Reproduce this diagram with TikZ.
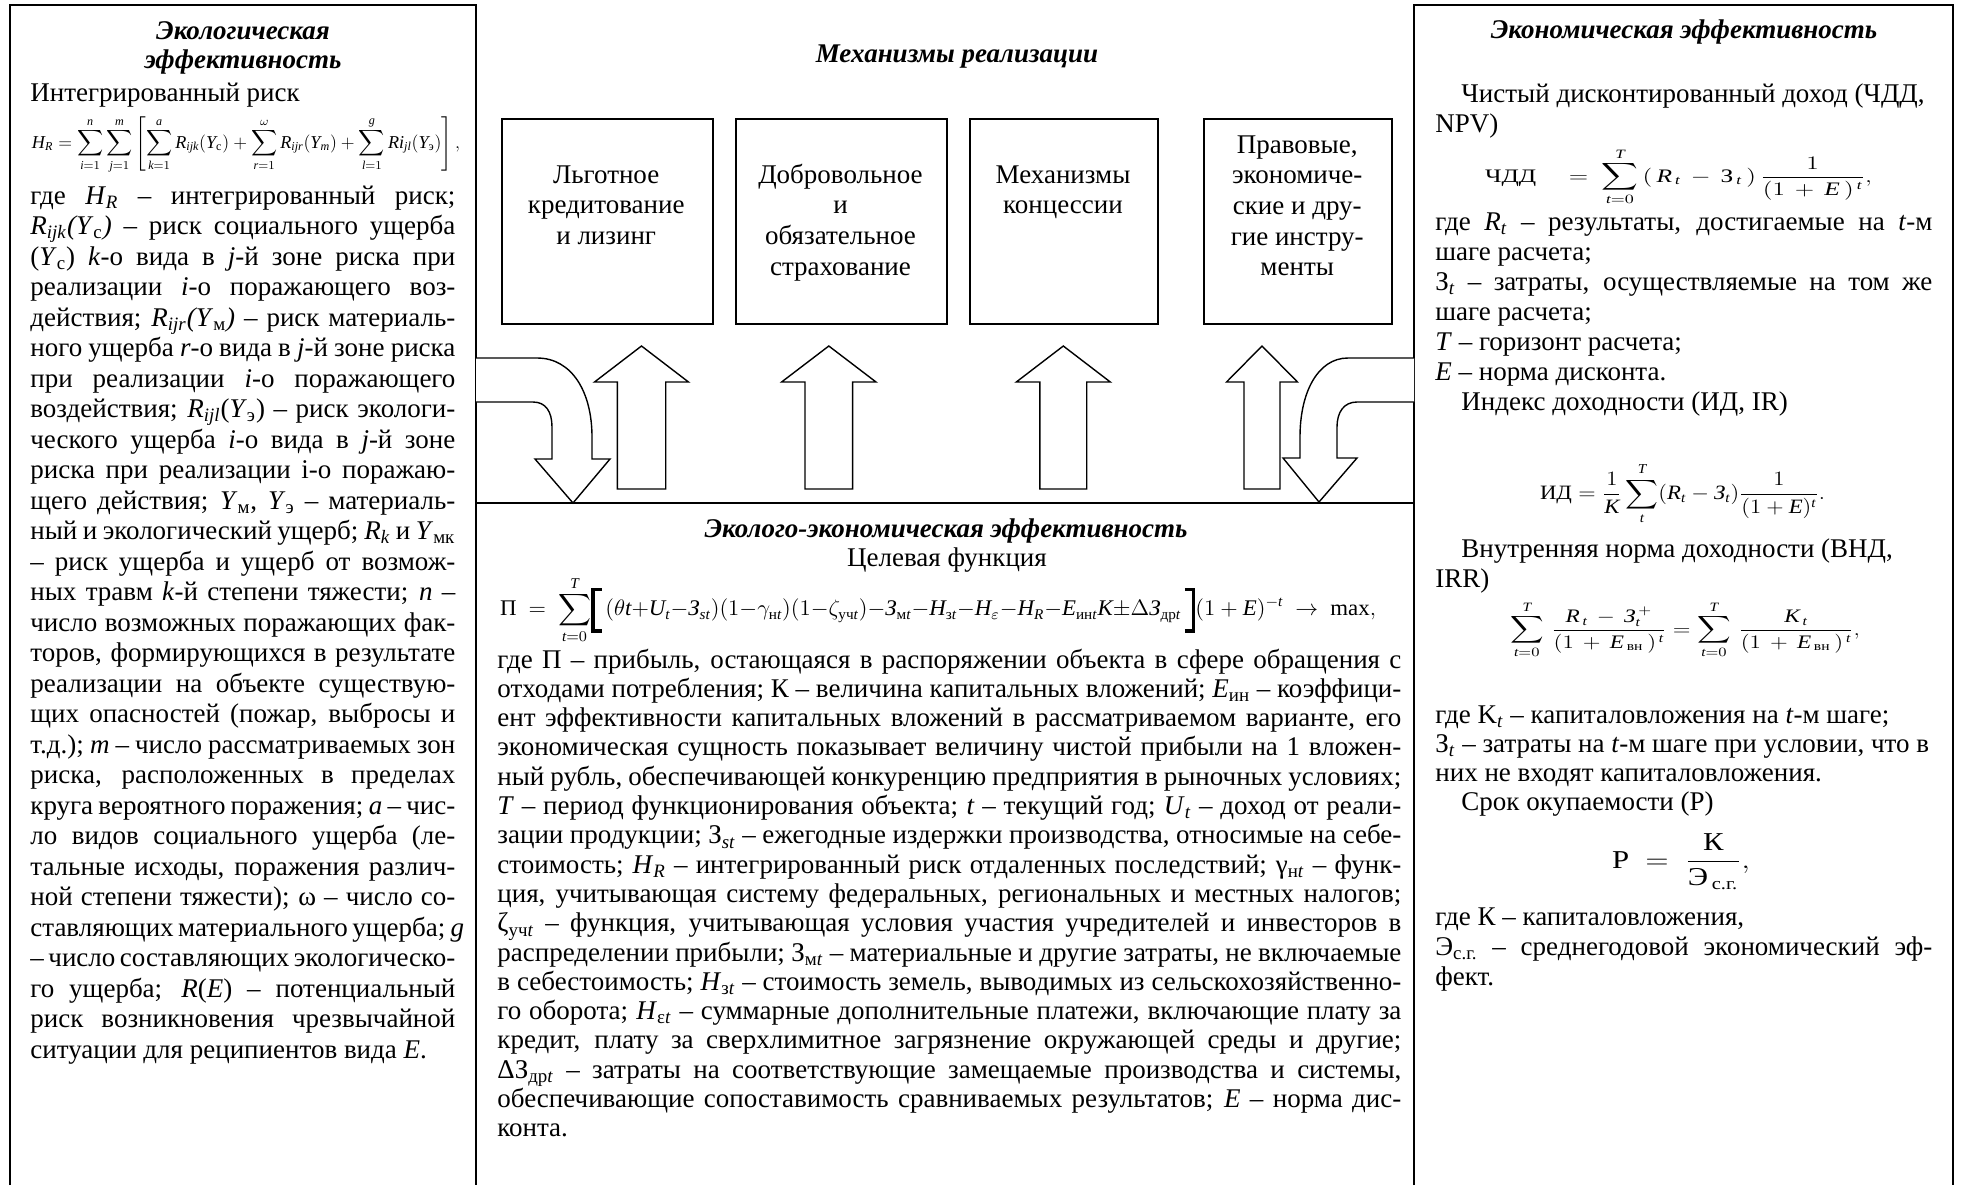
\documentclass[tikz,border=0pt]{standalone}
\usepackage{amsmath}
\usepackage{graphicx}
\usepackage{fontspec}
\setmainfont{Liberation Serif}
\newfontfamily\serifmath[NFSSFamily=lsmath]{Liberation Serif}

% serif letters and digits in formulas
\DeclareSymbolFont{tletters}{TU}{lsmath}{m}{it}
\DeclareSymbolFont{tdigits}{TU}{lsmath}{m}{n}
\newcount\mcnt
\mcnt=`A \loop \Umathcode\mcnt=7 \symtletters \mcnt \advance\mcnt 1 \ifnum\mcnt<`[ \repeat
\mcnt=`a \loop \Umathcode\mcnt=7 \symtletters \mcnt \advance\mcnt 1 \ifnum\mcnt<`\{ \repeat
\mcnt=`0 \loop \Umathcode\mcnt=7 \symtdigits \mcnt \advance\mcnt 1 \ifnum\mcnt<`: \repeat
\Umathcode`(=4 \symtdigits `(
\Umathcode`)=5 \symtdigits `)

% inline helpers
\newcommand\vv[1]{\textit{#1}}
\newcommand\sub[1]{\textsubscript{#1}}
% justified line, natural line, centred line
\newcommand\jl[1]{\hbox to\hsize{#1}}
\newcommand\el[1]{\hbox{#1}}
\newcommand\cl[1]{\hbox to\hsize{\hfil#1\hfil}}
% block of lines: width, baseline distance, lines
\newcommand\blk[3]{\vtop{\hsize=#1\baselineskip=#2\lineskiplimit=-\maxdimen\lineskip=0pt #3}}
% heavy square brackets for the objective function
\newcommand\hbrl{\mathopen{\vcenter{\hbox{\vrule width 1.8pt height 24pt depth 0pt\kern-1.8pt
  \vbox to 24pt{\hrule width 5.5pt height 1.8pt\vfil\hrule width 5.5pt height 1.8pt}}}}}
\newcommand\hbrr{\mathclose{\vcenter{\hbox{\vbox to 24pt{\hrule width 5.5pt height 1.8pt\vfil
  \hrule width 5.5pt height 1.8pt}\kern-1.8pt\vrule width 1.8pt height 24pt depth 0pt}}}}
% hollow upward block arrow: centre x, shaft half width, head half width
\newcommand\uparr[3]{%
  \draw[blockarrow] (#1-#2,489) -- (#1-#2,382) -- (#1-#3,382) -- (#1,346)
    -- (#1+#3,382) -- (#1+#2,382) -- (#1+#2,489) -- cycle;}

\tikzset{
  frame/.style={line width=1pt},
  blockarrow/.style={draw, line width=0.7pt, fill=white, line join=miter},
  tb/.style={inner sep=0pt, anchor=base west, font=\fontsize{13.5pt}{15pt}\selectfont},
  ctext/.style={inner sep=0pt, anchor=base, font=\fontsize{13.5pt}{15pt}\selectfont},
  head/.style={inner sep=0pt, anchor=base, font=\fontsize{13.5pt}{15pt}\selectfont\bfseries\itshape},
  mbox/.style={draw, line width=1pt, anchor=north west, inner sep=0pt},
  fml/.style={inner sep=0pt, anchor=center, font=\fontsize{12pt}{14pt}\selectfont},
}

\begin{document}
\begin{tikzpicture}[x=0.5pt, y=-0.5pt]
\useasboundingbox (0,0) rectangle (1961,1185);
\fill[white] (0,0) rectangle (1961,1185);

% ---------- frames ----------
\draw[frame] (10,1185) -- (10,5) -- (476,5) -- (476,1185);
\draw[frame] (1414,1185) -- (1414,5) -- (1953,5) -- (1953,1185);
\draw[frame] (476,503) -- (1414,503);

% ---------- mechanisms ----------
\node[head] (mechtitle) at (957,62) {Механизмы реализации};

\node[mbox, minimum width=105.5pt, minimum height=102.5pt] (b1) at (500.7,118) {};
\node[mbox, minimum width=105.5pt, minimum height=102.5pt] (b2) at (735,118) {};
\node[mbox, minimum width=93.7pt, minimum height=102.5pt] (b3) at (969.3,118) {};
\node[mbox, minimum width=93.8pt, minimum height=102.5pt] (b4) at (1203.3,118) {};

\node[ctext] (t1) at (606.2,183) {\blk{100pt}{15.35pt}{\cl{Льготное}\cl{кредитование}\cl{и лизинг}}};
\node[ctext] (t2) at (840.5,183) {\blk{100pt}{15.35pt}{\cl{Добровольное}\cl{и}\cl{обязательное}\cl{страхование}}};
\node[ctext] (t3) at (1063,183) {\blk{90pt}{15.35pt}{\cl{Механизмы}\cl{концессии}}};
\node[ctext] (t4) at (1297.2,153) {\blk{90pt}{15.35pt}{\cl{Правовые,}\cl{экономиче-}\cl{ские и дру-}\cl{гие инстру-}\cl{менты}}};

% arrows
\uparr{641.5}{24.2}{47}
\uparr{828.8}{23.8}{47.2}
\uparr{1063.3}{23.4}{47}
\uparr{1262}{18}{35.5}

\draw[blockarrow] (476,358) -- (537,358) .. controls (572,358) and (592,392) .. (592,437)
  -- (592,459) -- (610,459) -- (573,503) -- (535,459) -- (552,459) -- (552,427)
  .. controls (552,412) and (546,402) .. (533,402) -- (476,402);
\draw[blockarrow] (1414,358) -- (1348,358) .. controls (1318,358) and (1300,392) .. (1300,437)
  -- (1300,458) -- (1283,458) -- (1319,502) -- (1357,458) -- (1337,458) -- (1337,427)
  .. controls (1337,412) and (1344,402) .. (1357,402) -- (1414,402);

% ---------- ecological efficiency ----------
\node[head] (ecoA) at (243,39) {Экологическая};
\node[head] (ecoB) at (243,68) {эффективность};
\node[tb] (intrisk) at (30,101) {Интегрированный риск};
\node[fml] (fHR) at (246,145) {\resizebox{214pt}{!}{$\displaystyle H_R=\sum_{i=1}^{n}\sum_{j=1}^{m}\left[\sum_{k=1}^{a}R_{ijk}(Y_{\text{с}})+\sum_{r=1}^{\omega}R_{ijr}(Y_{m})+\sum_{l=1}^{g}Ri_{jl}(Y_{\text{э}})\right],$}};

\node[tb] (ecotext) at (30,204) {\blk{212.5pt}{15.25pt}{%
\jl{где \vv{H}\sub{\vv{R}} – интегрированный риск;}
\jl{\vv{R}\sub{\vv{ijk}}\vv{(Y}\sub{с}\vv{)} – риск социального ущерба}
\jl{(\vv{Y}\sub{с}) \vv{k}-о вида в \vv{j}-й зоне риска при}
\jl{реализации \vv{i}-о поражающего воз-}
\jl{действия; \vv{R}\sub{\vv{ijr}}\vv{(Y}\sub{м}\vv{)} – риск материаль-}
\jl{ного ущерба \vv{r}-о вида в \vv{j}-й зоне риска}
\jl{при реализации \vv{i}-о поражающего}
\jl{воздействия; \vv{R}\sub{\vv{ijl}}(\vv{Y}\sub{э}) – риск экологи-}
\jl{ческого ущерба \vv{i}-о вида в \vv{j}-й зоне}
\jl{риска при реализации i-о поражаю-}
\jl{щего действия; \vv{Y}\sub{м}, \vv{Y}\sub{э} – материаль-}
\jl{ный и экологический ущерб; \vv{R}\sub{\vv{k}} и \vv{Y}\sub{мк}}
\jl{– риск ущерба и ущерб от возмож-}
\jl{ных травм \vv{k}-й степени тяжести; \vv{n} –}
\jl{число возможных поражающих фак-}
\jl{торов, формирующихся в результате}
\jl{реализации на объекте существую-}
\jl{щих опасностей (пожар, выбросы и}
\jl{т.д.); \vv{m} – число рассматриваемых зон}
\jl{риска, расположенных в пределах}
\jl{круга вероятного поражения; \vv{a} – чис-}
\jl{ло видов социального ущерба (ле-}
\jl{тальные исходы, поражения различ-}
\jl{ной степени тяжести); ω – число со-}
\jl{ставляющих материального ущерба; \vv{g}}
\jl{– число составляющих экологическо-}
\jl{го ущерба; \vv{R}(\vv{E}) – потенциальный}
\jl{риск возникновения чрезвычайной}
\el{ситуации для реципиентов вида \vv{E}.}}};

% ---------- eco-economic efficiency ----------
\node[head] (ecoecon) at (946,537) {Эколого-экономическая эффективность};
\node[ctext] (goal) at (947,566) {Целевая функция};
\node[fml] (fPi) at (938,610) {\resizebox*{438pt}{34pt}{$\displaystyle \text{П}\ =\ \sum_{t=0}^{T}\hbrl\,(\theta t{+}U_t{-}\textit{З}_{st})(1{-}\gamma_{\text{н}t})(1{-}\zeta_{\text{уч}t}){-}\textit{З}_{\text{м}t}{-}H_{\text{з}t}{-}H_{\varepsilon}{-}H_R{-}E_{\text{ин}t}K{\pm}\Delta\textit{З}_{\text{др}t}\,\hbrr(1+E)^{-t}\ \to\ \max,$}};

\node[tb] (midtext) at (497,668) {\blk{452pt}{14.65pt}{%
\jl{где П – прибыль, остающаяся в распоряжении объекта в сфере обращения с}
\jl{отходами потребления; К – величина капитальных вложений; \vv{E}\sub{ин} – коэффици-}
\jl{ент эффективности капитальных вложений в рассматриваемом варианте, его}
\jl{экономическая сущность показывает величину чистой прибыли на 1 вложен-}
\jl{ный рубль, обеспечивающей конкуренцию предприятия в рыночных условиях;}
\jl{\vv{T} – период функционирования объекта; \vv{t} – текущий год; \vv{U}\sub{\vv{t}} – доход от реали-}
\jl{зации продукции; З\sub{\vv{st}} – ежегодные издержки производства, относимые на себе-}
\jl{стоимость; \vv{H}\sub{\vv{R}} – интегрированный риск отдаленных последствий; γ\sub{н\vv{t}} – функ-}
\jl{ция, учитывающая систему федеральных, региональных и местных налогов;}
\jl{ζ\sub{уч\vv{t}} – функция, учитывающая условия участия учредителей и инвесторов в}
\jl{распределении прибыли; З\sub{м\vv{t}} – материальные и другие затраты, не включаемые}
\jl{в себестоимость; \vv{H}\sub{з\vv{t}} – стоимость земель, выводимых из сельскохозяйственно-}
\jl{го оборота; \vv{H}\sub{ε\vv{t}} – суммарные дополнительные платежи, включающие плату за}
\jl{кредит, плату за сверхлимитное загрязнение окружающей среды и другие;}
\jl{ΔЗ\sub{др\vv{t}} – затраты на соответствующие замещаемые производства и системы,}
\jl{обеспечивающие сопоставимость сравниваемых результатов; \vv{E} – норма дис-}
\el{конта.}}};

% ---------- economic efficiency ----------
\node[head] (econtitle) at (1684,38) {Экономическая эффективность};

\node[tb] (npvtext) at (1435,102) {\blk{248.5pt}{15pt}{%
\el{\hskip13pt Чистый дисконтированный доход (ЧДД,}
\el{NPV)}}};
\node[fml] (fNPV) at (1678.5,177) {\resizebox*{193.5pt}{29pt}{$\displaystyle \text{ЧДД}\quad=\ \sum_{t=0}^{T}\,(\,R_{\,t}\,-\,\text{З}_{\,t}\,)\,\frac{1}{(1\,+\,E\,)^{\,t}},$}};

\node[tb] (npvdef) at (1435,230) {\blk{248.5pt}{15pt}{%
\jl{где \vv{R}\sub{\vv{t}} – результаты, достигаемые на \vv{t}-м}
\el{шаге расчета;}
\jl{З\sub{\vv{t}} – затраты, осуществляемые на том же}
\el{шаге расчета;}
\el{\vv{T} – горизонт расчета;}
\el{\vv{E} – норма дисконта.}
\el{\hskip13pt Индекс доходности (ИД, IR)}}};
\node[fml] (fIR) at (1682.5,494) {\resizebox*{142.5pt}{31pt}{$\displaystyle \text{ИД}=\frac{1}{K}\sum_{t}^{T}(R_t-\textit{З}_t)\frac{1}{(1+E)^t}.$}};

\node[tb] (irrtext) at (1435,557) {\blk{248.5pt}{15pt}{%
\el{\hskip13pt Внутренняя норма доходности (ВНД,}
\el{IRR)}}};
\node[fml] (fIRR) at (1685,630) {\resizebox*{175pt}{29pt}{$\displaystyle \sum_{t=0}^{T}\,\frac{R_{\,t}\,-\,\textit{З}_t^{\,+}}{(1\,+\,E_{\,\text{вн}}\,)^{\,t}}=\sum_{t=0}^{T}\,\frac{K_{\,t}}{(1\,+\,E_{\,\text{вн}}\,)^{\,t}},$}};

\node[tb] (irrdef) at (1435,723) {\blk{248.5pt}{14.5pt}{%
\el{где K\sub{\vv{t}} – капиталовложения на \vv{t}-м шаге;}
\el{З\sub{\vv{t}} – затраты на \vv{t}-м шаге при условии, что в}
\el{них не входят капиталовложения.}
\el{\hskip13pt Срок окупаемости (Р)}}};
\node[fml] (fP) at (1681,862) {\resizebox*{69pt}{28pt}{$\displaystyle \text{Р}\ =\ \frac{\text{К}}{\text{Э}_{\,\text{с.г.}}},$}};

\node[tb] (pdef) at (1435,925) {\blk{248.5pt}{15pt}{%
\el{где К – капиталовложения,}
\jl{Э\sub{с.г.} – среднегодовой экономический эф-}
\el{фект.}}};
\end{tikzpicture}
\end{document}
